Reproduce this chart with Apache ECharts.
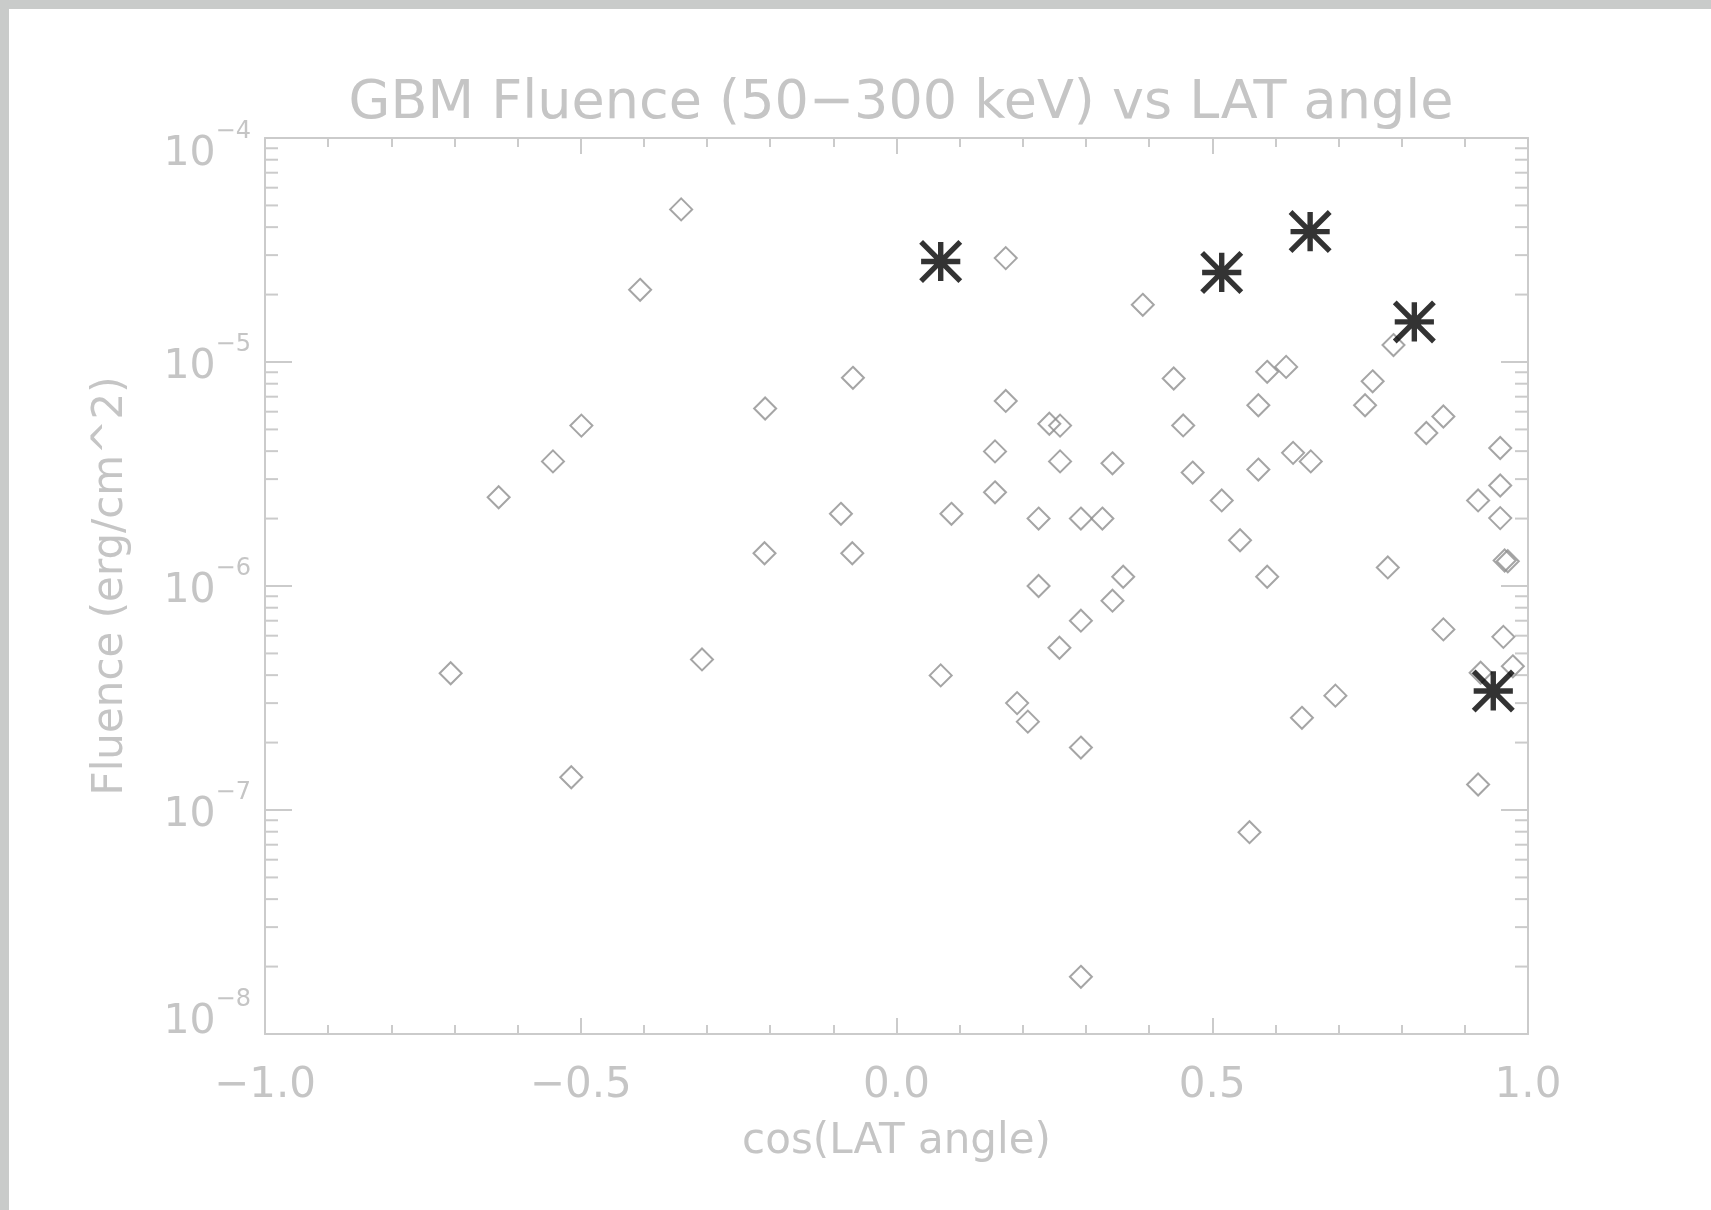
<!DOCTYPE html>
<html><head><meta charset="utf-8">
<script src="https://cdn.jsdelivr.net/npm/echarts@6/dist/echarts.min.js"></script>
<style>html,body{margin:0;padding:0;background:#fff}#c{width:1711px;height:1210px}</style>
</head><body><div id="c"></div>
<script>
const titleText = 'GBM Fluence (50\u2212300 keV) vs LAT angle';
const xName = 'cos(LAT angle)';
const yName = 'Fluence (erg/cm^2)';

// GBM bursts (diamonds)
const cosLat = [
  -0.341, -0.406, -0.499, -0.544, -0.630, -0.706, -0.515, -0.308,
  -0.208, -0.209, -0.069, -0.088, -0.070,
  0.173, 0.173, 0.156, 0.156, 0.087, 0.242, 0.259, 0.259, 0.225, 0.292, 0.326,
  0.342, 0.225, 0.359, 0.342, 0.292, 0.258, 0.070, 0.191, 0.208, 0.292, 0.292, 0.390,
  0.439, 0.454, 0.469, 0.515, 0.544, 0.587, 0.559, 0.587, 0.617, 0.573, 0.573,
  0.628, 0.656, 0.642, 0.695, 0.742, 0.754, 0.787, 0.778, 0.839, 0.866, 0.866,
  0.921, 0.956, 0.956, 0.956, 0.963, 0.968, 0.961, 0.976, 0.925, 0.921
];
const fluence = [
  4.8e-5, 2.1e-5, 5.2e-6, 3.6e-6, 2.49e-6, 4.08e-7, 1.40e-7, 4.7e-7,
  6.2e-6, 1.40e-6, 8.5e-6, 2.10e-6, 1.40e-6,
  2.91e-5, 6.7e-6, 3.99e-6, 2.62e-6, 2.10e-6, 5.3e-6, 5.2e-6, 3.6e-6, 2.0e-6, 2.0e-6, 2.0e-6,
  3.53e-6, 1.0e-6, 1.10e-6, 8.6e-7, 7.0e-7, 5.3e-7, 3.99e-7, 3.0e-7, 2.48e-7, 1.90e-7, 1.80e-8, 1.80e-5,
  8.44e-6, 5.21e-6, 3.21e-6, 2.41e-6, 1.60e-6, 1.10e-6, 7.96e-8, 9.04e-6, 9.51e-6, 6.41e-6, 3.31e-6,
  3.93e-6, 3.6e-6, 2.58e-7, 3.24e-7, 6.41e-6, 8.2e-6, 1.19e-5, 1.21e-6, 4.82e-6, 5.71e-6, 6.40e-7,
  2.41e-6, 4.13e-6, 2.81e-6, 2.01e-6, 1.30e-6, 1.29e-6, 5.93e-7, 4.38e-7, 4.1e-7, 1.30e-7
];

// LAT-detected bursts (asterisks)
const latCos = [0.070, 0.515, 0.655, 0.820, 0.945];
const latFluence = [2.81e-5, 2.51e-5, 3.82e-5, 1.51e-5, 3.40e-7];

// log-axis minor tick values
const yMinorTicks = [
  2e-8, 3e-8, 4e-8, 5e-8, 6e-8, 7e-8, 8e-8, 9e-8,
  2e-7, 3e-7, 4e-7, 5e-7, 6e-7, 7e-7, 8e-7, 9e-7,
  2e-6, 3e-6, 4e-6, 5e-6, 6e-6, 7e-6, 8e-6, 9e-6,
  2e-5, 3e-5, 4e-5, 5e-5, 6e-5, 7e-5, 8e-5, 9e-5
];

const FONT = "'DejaVu Sans', 'Liberation Sans', sans-serif";
const TXT = '#c5c5c5';
const AX = '#cbcbcb';
const STAR = 'path://M0 17.25L40 17.25L40 22.75L0 22.75Z M17.25 0L22.75 0L22.75 40L17.25 40Z M1.94 -1.94L41.94 38.06L38.06 41.94L-1.94 1.94Z M38.06 -1.94L41.94 1.94L1.94 41.94L-1.94 38.06Z';

const chart = echarts.init(document.getElementById('c'), null, {renderer: 'canvas'});

function xFmt(v) {
  const s = Math.abs(v).toFixed(1);
  return v < 0 ? '\u2212' + s : s;
}
function yFmt(v) {
  const e = Math.round(Math.log10(v));
  const k = e === -4 ? '2' : (e === -8 ? '3' : '');
  return '{b' + k + '|10}{s' + k + '|\u2212' + Math.abs(e) + '}';
}

const B = {fontFamily: FONT, fontSize: 41, color: TXT, lineHeight: 60, verticalAlign: 'middle'};
const S = {fontFamily: FONT, fontSize: 24, color: TXT, lineHeight: 16, verticalAlign: 'middle'};

const xCommon = {
  type: 'value', min: -1, max: 1, interval: 0.5,
  axisLine: {show: true, onZero: false, lineStyle: {color: AX, width: 2}},
  axisTick: {show: true, inside: true, length: 16, lineStyle: {color: AX, width: 2}},
  minorTick: {show: true, splitNumber: 5, length: 9, lineStyle: {color: AX, width: 2}},
  splitLine: {show: false}
};
const yCommon = {
  type: 'log', logBase: 10, min: 1e-8, max: 1e-4, interval: 1,
  axisLine: {show: true, onZero: false, lineStyle: {color: AX, width: 2}},
  axisTick: {show: true, inside: true, length: 27, lineStyle: {color: AX, width: 2}},
  minorTick: {show: false},
  splitLine: {show: false}
};

chart.setOption({
  backgroundColor: '#ffffff',
  animation: false,
  title: {
    text: titleText, left: 896, top: 72, textAlign: 'center',
    textStyle: {fontFamily: FONT, fontSize: 54, fontWeight: 'normal', color: TXT}
  },
  graphic: [
    {type: 'rect', left: 0, top: 0, shape: {width: 1711, height: 9}, style: {fill: '#c9cbca'}, z: 100},
    {type: 'rect', left: 0, top: 0, shape: {width: 9, height: 1210}, style: {fill: '#c9cbca'}, z: 100}
  ],
  grid: {left: 265, top: 138, width: 1263, height: 896, containLabel: false},
  xAxis: [
    Object.assign({}, xCommon, {
      position: 'bottom',
      name: xName, nameLocation: 'middle', nameGap: 87,
      nameTextStyle: {fontFamily: FONT, fontSize: 42, color: TXT},
      axisLabel: {show: true, margin: 31, formatter: xFmt, fontFamily: FONT, fontSize: 42, color: TXT}
    }),
    Object.assign({}, xCommon, {position: 'top', axisLabel: {show: false}})
  ],
  yAxis: [
    Object.assign({}, yCommon, {
      position: 'left',
      name: yName, nameLocation: 'middle', nameGap: 133,
      nameTextStyle: {fontFamily: FONT, fontSize: 42, color: TXT},
      axisLabel: {
        show: true, margin: 14, formatter: yFmt,
        rich: {
          b: Object.assign({}, B, {padding: [10, 0, 0, 0]}),
          s: Object.assign({}, S, {padding: [0, 0, 34, 0]}),
          b2: Object.assign({}, B, {padding: [32, 0, 0, 0]}),
          s2: Object.assign({}, S, {padding: [0, 0, 12, 0]}),
          b3: Object.assign({}, B, {padding: [0, 0, 24, 0]}),
          s3: Object.assign({}, S, {padding: [0, 0, 68, 0]})
        }
      }
    }),
    Object.assign({}, yCommon, {position: 'right', axisLabel: {show: false}})
  ],
  series: [
    {
      type: 'custom', xAxisIndex: 0, yAxisIndex: 0, silent: true, clip: false, z: 1,
      data: yMinorTicks.map(v => [0, v]),
      renderItem: function (params, api) {
        const v = api.value(1);
        const pl = api.coord([-1, v]);
        const pr = api.coord([1, v]);
        const st = {stroke: AX, lineWidth: 2};
        return {type: 'group', children: [
          {type: 'line', shape: {x1: pl[0], y1: pl[1], x2: pl[0] + 13, y2: pl[1]}, style: st},
          {type: 'line', shape: {x1: pr[0] - 13, y1: pr[1], x2: pr[0], y2: pr[1]}, style: st}
        ]};
      }
    },
    {
      type: 'scatter', name: 'GBM', z: 3,
      data: cosLat.map((x, i) => [x, fluence[i]]),
      symbol: 'diamond', symbolSize: 22,
      itemStyle: {color: 'rgba(0,0,0,0)', borderColor: '#8e8e8e', borderWidth: 2},
      emphasis: {disabled: true}
    },
    {
      type: 'scatter', name: 'LAT', z: 4,
      data: latCos.map((x, i) => [x, latFluence[i]]),
      symbol: STAR, symbolSize: 43,
      itemStyle: {color: '#000000'},
      emphasis: {disabled: true}
    }
  ]
});
</script>
</body></html>
